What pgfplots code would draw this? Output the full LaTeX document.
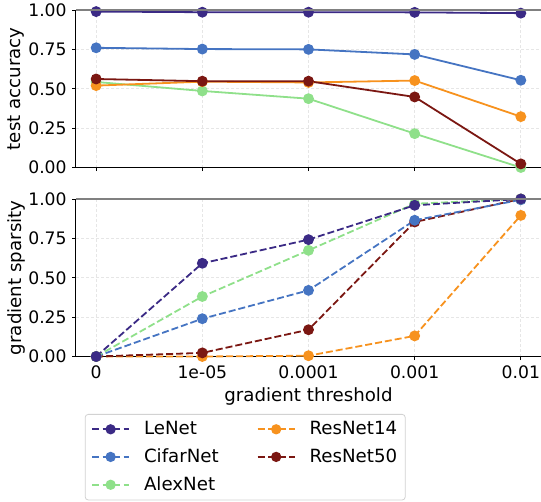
\documentclass[border=0pt]{standalone}
\usepackage{fontspec}
\setmainfont{DejaVu Sans}
\usepackage{pgfplots}
\pgfplotsset{compat=1.18}
\definecolor{cLe}{HTML}{3B2A85}
\definecolor{cCi}{HTML}{4574C2}
\definecolor{cAl}{HTML}{8FE08A}
\definecolor{cR14}{HTML}{F7921E}
\definecolor{cR50}{HTML}{7B1712}
\definecolor{gridc}{HTML}{E6E6E6}
\begin{document}
\fontsize{17}{20}\selectfont
\begin{tikzpicture}
\useasboundingbox (0pt,0pt) rectangle (541pt,-501pt);
\pgfplotsset{
  common/.style={
    scale only axis, width=465pt, height=157.5pt,
    xmin=-0.19, xmax=4.19, ymin=0, ymax=1,
    xtick={0,1,2,3,4},
    ytick={0,0.25,0.5,0.75,1},
    yticklabel style={/pgf/number format/.cd, fixed, fixed zerofill, precision=2},
    /pgf/number format/assume math mode=true,
    tick label style={font=\fontsize{17.2}{20}\selectfont},
    label style={font=\fontsize{18.2}{21}\selectfont},
    ylabel style={at={(axis description cs:-0.129,0.5)}, anchor=center, rotate=0},
    grid=major,
    major grid style={draw=gridc, dash pattern=on 3pt off 2pt, line width=0.8pt},
    xtick pos=lower, ytick pos=left, tick align=outside,
    major tick length=3.5pt,
    tick style={black, line width=0.8pt},
    axis line style={line width=1pt},
    separate axis lines,
    clip=false,
    every axis plot/.append style={line width=1.8pt, mark=*, mark size=4.5pt},
    after end axis/.code={
      \draw[gray, line width=1.6pt] (rel axis cs:0,1) -- (rel axis cs:1,1);
    },
    axis x line*=bottom, axis y line*=left,
  }
}
\begin{axis}[common, at={(76pt,-10pt)}, anchor=north west,
  xticklabels={}, ylabel={test accuracy}]
\addplot[cAl, mark options={fill=cAl}] coordinates {(0,0.543)(1,0.486)(2,0.437)(3,0.215)(4,0.0)};
\addplot[cR14, mark options={fill=cR14}] coordinates {(0,0.52)(1,0.545)(2,0.54)(3,0.552)(4,0.323)};
\addplot[cR50, mark options={fill=cR50}] coordinates {(0,0.562)(1,0.548)(2,0.548)(3,0.448)(4,0.023)};
\addplot[cCi, mark options={fill=cCi}] coordinates {(0,0.76)(1,0.752)(2,0.75)(3,0.718)(4,0.554)};
\addplot[cLe, mark options={fill=cLe}] coordinates {(0,0.99)(1,0.986)(2,0.986)(3,0.985)(4,0.98)};
\end{axis}
\begin{axis}[common, at={(76pt,-199pt)}, anchor=north west,
  xticklabels={0,1e-05,0.0001,0.001,0.01},
  xlabel={gradient threshold}, ylabel={gradient sparsity},
  xlabel style={yshift=3pt},
  every axis plot/.append style={dash pattern=on 7pt off 3pt},
  legend columns=2,
  legend style={at={(axis description cs:0.019,-0.365)}, anchor=north west,
    draw=gray!35, rounded corners=3pt, line width=0.8pt,
    font=\fontsize{18.2}{21}\selectfont,
    inner xsep=6pt, inner ysep=5pt,
    /tikz/every odd column/.append style={column sep=12pt},
    /tikz/every even column/.append style={column sep=36pt},
    row sep=7.5pt},
  legend cell align=left,
  legend image code/.code={
    \draw[#1, dash pattern=on 7pt off 3.5pt, dash phase=0pt] (0pt,0pt) -- (37pt,0pt);
    \draw[#1, solid] plot[mark=*, mark size=4.2pt] coordinates {(18.5pt,0pt)};
  },
]
\addlegendimage{cLe, mark options={fill=cLe, solid}}
\addlegendentry{LeNet}
\addlegendimage{cR14, mark options={fill=cR14, solid}}
\addlegendentry{ResNet14}
\addlegendimage{cCi, mark options={fill=cCi, solid}}
\addlegendentry{CifarNet}
\addlegendimage{cR50, mark options={fill=cR50, solid}}
\addlegendentry{ResNet50}
\addlegendimage{cAl, mark options={fill=cAl, solid}}
\addlegendentry{AlexNet}
\addplot[forget plot, cR14, mark options={fill=cR14, solid}] coordinates {(0,0)(1,0.0)(2,0.005)(3,0.131)(4,0.896)};
\addplot[forget plot, cR50, mark options={fill=cR50, solid}] coordinates {(0,0)(1,0.023)(2,0.17)(3,0.854)(4,1.0)};
\addplot[forget plot, cCi, mark options={fill=cCi, solid}] coordinates {(0,0)(1,0.24)(2,0.42)(3,0.865)(4,0.995)};
\addplot[forget plot, cAl, mark options={fill=cAl, solid}] coordinates {(0,0)(1,0.381)(2,0.674)(3,0.97)(4,1.0)};
\addplot[forget plot, cLe, mark options={fill=cLe, solid}] coordinates {(0,0)(1,0.592)(2,0.742)(3,0.96)(4,1.0)};
\end{axis}
\end{tikzpicture}
\end{document}
